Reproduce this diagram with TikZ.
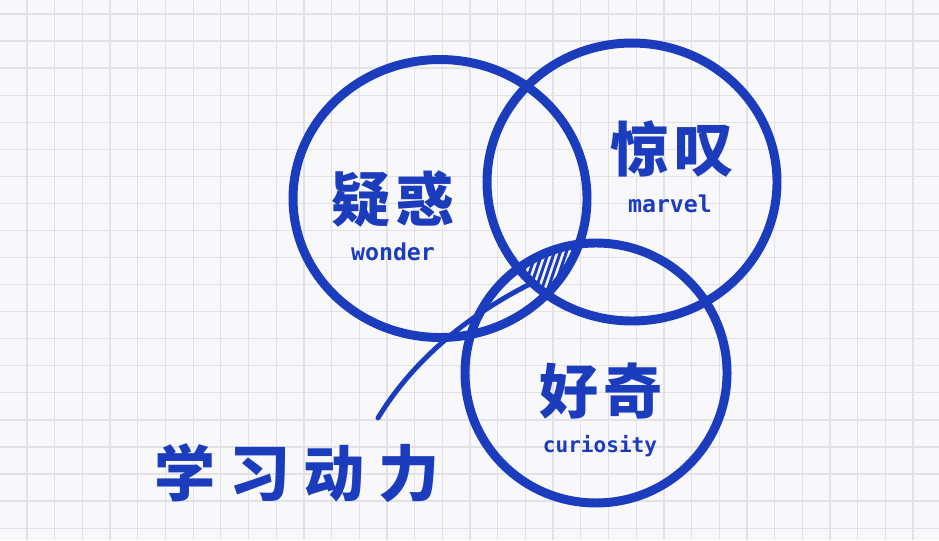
\documentclass[tikz,border=0pt]{standalone}
\usepackage{fontspec}
\newfontfamily\cjk[LetterSpace=8]{Noto Sans CJK SC}
\newfontfamily\cjkwide[LetterSpace=22]{Noto Sans CJK SC}
\newfontfamily\latinhand{DejaVu Sans Mono}
\definecolor{ink}{RGB}{28,60,190}
\definecolor{paper}{RGB}{248,248,250}
\definecolor{gridgray}{RGB}{226,226,230}
\begin{document}
\begin{tikzpicture}[line width=0.6pt,
  zh/.style={ink, font=\cjk\bfseries\fontsize{56}{56}\selectfont, inner sep=1.5pt},
  en/.style={ink, font=\latinhand\bfseries\fontsize{22}{22}\selectfont, inner sep=1.5pt, anchor=base}]
  \fill[paper] (0.000,0.000) rectangle (31.300,18.000);
  \useasboundingbox (0.000,0.000) rectangle (31.300,18.000);
  % grid paper
  \foreach \i in {-1,...,32}
    \draw[gridgray, line width=1.2pt] ({0.900+0.923*\i},0.000) -- ({0.900+0.923*\i},18.000);
  \foreach \j in {0,...,19}
    \draw[gridgray, line width=1.2pt] (0.000,{17.533-0.902*\j}) -- (31.300,{17.533-0.902*\j});
  % centres
  \coordinate (W) at (14.667,11.383);
  \coordinate (M) at (21.067,11.933);
  \coordinate (C) at (19.867,5.567);
  % hatched common part
  \begin{scope}
    \clip (W) ellipse [x radius=4.900, y radius=4.633];
    \clip (M) ellipse [x radius=4.833, y radius=4.633];
    \clip (C) ellipse [x radius=4.367, y radius=4.333];
    \foreach \x in {16.6,16.8,...,19.4}
      \draw[ink, line width=2.8pt] (\x,7.600) -- ++(0.750,2.200);
  \end{scope}
  \draw[ink, line width=8.5pt] (W) ellipse [x radius=4.900, y radius=4.633];
  \draw[ink, line width=8.5pt] (M) ellipse [x radius=4.833, y radius=4.633];
  \draw[ink, line width=8.5pt] (C) ellipse [x radius=4.367, y radius=4.333];
  % pointer
  \coordinate (tail) at (12.600,4.067);
  \coordinate (head) at (17.733,8.567);
  \draw[ink, line width=4.7pt, line cap=round] (tail) .. controls (13.667,5.833) and (15.400,7.400) .. (head);
  % labels
  \node[zh] (wonderzh) at (13.100,11.367) {疑惑};
  \node[en] (wonderen) at (13.100,9.333) {wonder};
  \node[zh] (marvelzh) at (22.400,13.033) {惊叹};
  \node[en] (marvelen) at (22.333,10.933) {marvel};
  \node[zh] (curiozh) at (20.033,4.967) {好奇};
  \node[en, font=\latinhand\bfseries\fontsize{20}{20}\selectfont] (curioen) at (20.000,2.933) {curiosity};
  \node[zh, font=\cjkwide\bfseries\fontsize{58}{58}\selectfont] (drive) at (9.900,2.233) {学习动力};
\end{tikzpicture}
\end{document}
